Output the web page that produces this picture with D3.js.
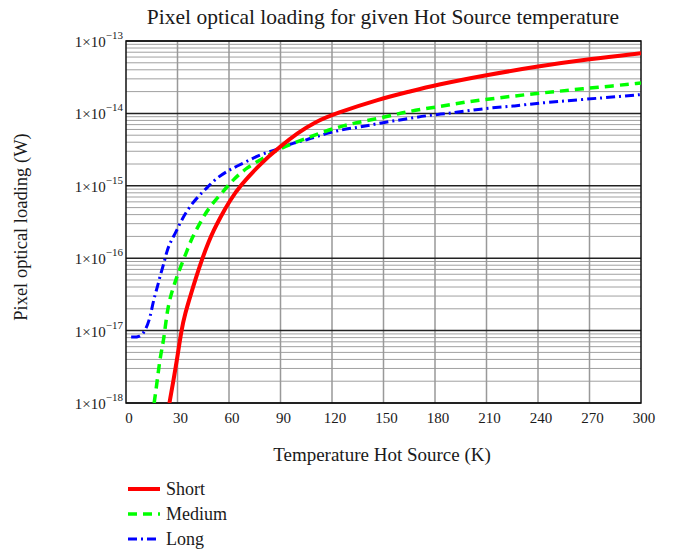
<!DOCTYPE html>
<html>
<head>
<meta charset="utf-8">
<script src="https://cdn.jsdelivr.net/npm/d3@7"></script>
<style>
  body { margin: 0; background: #fff; }
  text { font-family: "Liberation Serif", "Times New Roman", serif; fill: #1a1a1a; }
</style>
</head>
<body>
<div id="chart"></div>
<script>
// values, loading stored as log10(W)
var shortT = [25.3, 27.7, 30, 32.2, 34.5, 37.4, 40.3, 44.5, 48, 51, 54.8, 60.6, 66.5, 78, 89.7, 100, 110, 122, 148, 165, 180, 210, 240, 270, 300];
var shortLog = [-18.0, -17.68, -17.36, -17.0, -16.76, -16.53, -16.30, -16.0, -15.78, -15.62, -15.44, -15.20, -15.0, -14.70, -14.46, -14.27, -14.12, -14.0, -13.80, -13.70, -13.61, -13.47, -13.35, -13.25, -13.17];

var mediumT = [16.4, 18.0, 19.9, 21.9, 23.8, 25.8, 28.7, 31.6, 35.5, 38.4, 43.2, 48, 55.8, 62.6, 70.3, 79.1, 86.8, 95.5, 113, 128.5, 147.8, 164.2, 181.7, 198.2, 215.6, 233, 249.6, 266, 283.5, 300];
var mediumLog = [-18.0, -17.73, -17.36, -17.15, -16.76, -16.53, -16.32, -16.13, -15.90, -15.72, -15.51, -15.31, -15.10, -14.91, -14.75, -14.63, -14.52, -14.43, -14.27, -14.15, -14.07, -13.97, -13.91, -13.84, -13.79, -13.74, -13.70, -13.66, -13.62, -13.58];

var longT = [3, 8.3, 11.2, 13.7, 15.1, 16.6, 18.4, 20, 21.9, 23.8, 25.8, 29.3, 32.2, 36.4, 41.5, 47.1, 51.9, 58.7, 64.5, 72.3, 78.1, 84.9, 89.7, 98.4, 103.3, 111, 123.6, 136.2, 148.8, 162.4, 175, 187.6, 200.2, 213.7, 226.3, 238.9, 265.1, 290.3, 300];
var longLog = [-17.09, -17.09, -17.0, -16.85, -16.69, -16.53, -16.39, -16.23, -16.09, -15.90, -15.78, -15.63, -15.48, -15.31, -15.16, -15.03, -14.91, -14.80, -14.73, -14.64, -14.57, -14.52, -14.48, -14.40, -14.38, -14.32, -14.23, -14.19, -14.13, -14.08, -14.03, -14.00, -13.96, -13.92, -13.90, -13.86, -13.81, -13.76, -13.74];

var xTicks = [0, 30, 60, 90, 120, 150, 180, 210, 240, 270, 300];
var yExps = [-13, -14, -15, -16, -17, -18];
var seriesNames = ["Short", "Medium", "Long"];

var width = 673, height = 553;
var plotL = 126, plotR = 641, plotT = 41, plotB = 403;

var svg = d3.select("#chart").append("svg")
  .attr("width", width)
  .attr("height", height);

var x = d3.scaleLinear().domain([0, 300]).range([plotL, plotR]);
var y = d3.scaleLog().domain([1e-18, 1e-13]).range([plotB, plotT]);

// minor grid lines (2..9 in each decade)
var minor = [];
yExps.slice(0, 5).forEach(function (e) {
  for (var k = 2; k <= 9; k++) minor.push(k * Math.pow(10, e - 1));
});
svg.selectAll(".minor").data(minor).enter().append("line")
  .attr("x1", plotL).attr("x2", plotR)
  .attr("y1", function (d) { return y(d); })
  .attr("y2", function (d) { return y(d); })
  .style("stroke", "#a0a0a0").style("stroke-width", 1);

// vertical grid
svg.selectAll(".vgrid").data(xTicks.slice(1, -1)).enter().append("line")
  .attr("x1", function (d) { return x(d); })
  .attr("x2", function (d) { return x(d); })
  .attr("y1", plotT).attr("y2", plotB)
  .style("stroke", "#999").style("stroke-width", 1.5);

// decade lines
svg.selectAll(".major").data(yExps).enter().append("line")
  .attr("x1", plotL).attr("x2", plotR)
  .attr("y1", function (d) { return y(Math.pow(10, d)); })
  .attr("y2", function (d) { return y(Math.pow(10, d)); })
  .style("stroke", "#222").style("stroke-width", 1.5);

// frame
svg.append("rect")
  .attr("x", plotL).attr("y", plotT)
  .attr("width", plotR - plotL).attr("height", plotB - plotT)
  .style("fill", "none").style("stroke", "#111").style("stroke-width", 1.5);

// y tick labels
var yl = svg.selectAll(".ylab").data(yExps).enter().append("text")
  .attr("x", plotL - 3)
  .attr("y", function (d) { return y(Math.pow(10, d)) + 6; })
  .attr("text-anchor", "end")
  .style("font-size", "15px");
yl.append("tspan").text("1×10");
yl.append("tspan").attr("dy", -8).style("font-size", "11px")
  .text(function (d) { return "\u2212" + Math.abs(d); });

// x tick labels
svg.selectAll(".xlab").data(xTicks).enter().append("text")
  .attr("x", function (d) { return x(d) + 3; })
  .attr("y", plotB + 20)
  .attr("text-anchor", "middle")
  .style("font-size", "15px")
  .text(function (d) { return d; });

// titles
svg.append("text").attr("x", 383).attr("y", 24).attr("text-anchor", "middle")
  .style("font-size", "21.5px").text("Pixel optical loading for given Hot Source temperature");
svg.append("text").attr("x", 382).attr("y", 461).attr("text-anchor", "middle")
  .style("font-size", "19px").text("Temperature Hot Source (K)");
svg.append("text").attr("transform", "translate(27,227) rotate(-90)")
  .attr("text-anchor", "middle")
  .style("font-size", "18.5px").text("Pixel optical loading (W)");

// curves, smoothed through the read points
var line = d3.line()
  .x(function (d) { return x(d[0]); })
  .y(function (d) { return y(Math.pow(10, d[1])); })
  .curve(d3.curveBasis);

var styles = [
  { color: "#ff0000", w: 4, dash: null },
  { color: "#00ff00", w: 3.5, dash: "9,6" },
  { color: "#0000ff", w: 3, dash: "9,4,2,4" }
];
var series = [
  d3.zip(shortT, shortLog),
  d3.zip(mediumT, mediumLog),
  d3.zip(longT, longLog)
];

svg.append("clipPath").attr("id", "clip").append("rect")
  .attr("x", plotL).attr("y", plotT).attr("width", plotR - plotL).attr("height", plotB - plotT);

// draw long first so short sits on top
[2, 1, 0].forEach(function (i) {
  svg.append("path")
    .datum(series[i])
    .attr("d", line)
    .attr("clip-path", "url(#clip)")
    .style("fill", "none")
    .style("stroke", styles[i].color)
    .style("stroke-width", styles[i].w)
    .style("stroke-dasharray", styles[i].dash);
});

// legend
var leg = svg.selectAll(".leg").data(seriesNames).enter().append("g")
  .attr("transform", function (d, i) { return "translate(128," + (489 + i * 25) + ")"; });
leg.append("line")
  .attr("x1", 0).attr("x2", 32).attr("y1", 0).attr("y2", 0)
  .style("stroke", function (d, i) { return styles[i].color; })
  .style("stroke-width", function (d, i) { return styles[i].w; })
  .style("stroke-dasharray", function (d, i) { return styles[i].dash; });
leg.append("text")
  .attr("x", 38).attr("y", 6)
  .style("font-size", "18px")
  .text(function (d) { return d; });
</script>
</body>
</html>
